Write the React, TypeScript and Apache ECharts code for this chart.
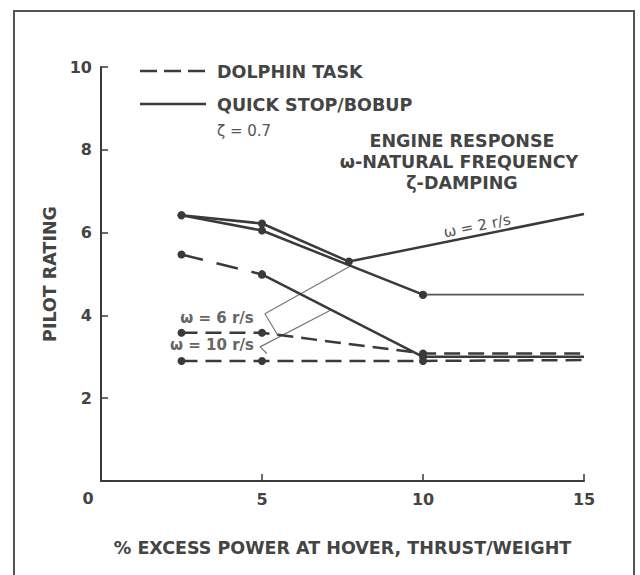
import React, { useEffect, useRef } from "react";
import * as echarts from "echarts";

// Data (x: % excess power, y: pilot rating)
const omega2Quick = [[2.5, 6.42], [5, 6.22], [7.7, 5.3], [15, 6.45]];
const omega6Quick = [[2.5, 6.42], [5, 6.05], [10, 4.5]];
const omega6QuickTail = [[10, 4.5], [15, 4.5]];
const omega10QuickStart = [[2.5, 5.47], [5, 4.99]];
const omega10Quick = [[5, 4.99], [10, 3.0], [15, 3.0]];
const omega6Dolphin = [[2.5, 3.58], [5, 3.58], [10, 3.08], [15, 3.08]];
const omega10Dolphin = [[2.5, 2.9], [5, 2.9], [10, 2.9], [15, 2.92]];
// leader lines for the ω labels
const leader6 = [[7.79, 5.21], [5.09, 4.04], [5.5, 3.51]];
const leader10 = [[7.11, 4.12], [4.94, 3.24], [5.15, 3.08]];

const xTicks = [0, 5, 10, 15];
const yTicks = [0, 2, 4, 6, 8, 10];

const FONT = "DejaVu Sans";
const INK = "#3a3a3a";
const TXT = "#444";

export default function App() {
  const ref = useRef<HTMLDivElement>(null);
  useEffect(() => {
    if (!ref.current) return;
    const chart = echarts.init(ref.current, null, { renderer: "svg" });
    const dot = (v: number[]) => (v[0] === 15 ? 0 : 8);
    const solid = (data: number[][], extra: any = {}) => ({
      type: "line",
      data,
      symbol: "circle",
      symbolSize: dot,
      itemStyle: { color: INK },
      lineStyle: { color: INK, width: 2.5, type: "solid" },
      silent: true,
      ...extra,
    });
    const dashed = (data: number[][], extra: any = {}) => ({
      type: "line",
      data,
      symbol: "circle",
      symbolSize: dot,
      itemStyle: { color: INK },
      lineStyle: { color: INK, width: 2.5, type: [16, 8] },
      silent: true,
      ...extra,
    });
    const leader = (data: number[][]) => ({
      type: "line",
      data,
      symbol: "none",
      lineStyle: { color: "#777", width: 1.2 },
      silent: true,
    });
    const txt = (x: number, y: number, text: string, extra: any = {}) => ({
      type: "text",
      x,
      y,
      style: {
        text,
        fill: TXT,
        font: `bold 17.5px "${FONT}"`,
        textVerticalAlign: "middle",
        ...extra,
      },
      silent: true,
    });
    const option: any = {
      animation: false,
      grid: { left: 101, right: 56, top: 67, bottom: 94 },
      xAxis: {
        type: "value",
        min: xTicks[0],
        max: xTicks[xTicks.length - 1],
        interval: 5,
        name: "% EXCESS POWER AT HOVER, THRUST/WEIGHT",
        nameLocation: "middle",
        nameGap: 58,
        nameTextStyle: { color: TXT, fontSize: 17.5, fontWeight: "bold", fontFamily: FONT },
        axisLine: { lineStyle: { color: INK, width: 2 } },
        axisTick: { inside: true, length: 7, lineStyle: { color: INK, width: 1.5 } },
        splitLine: { show: false },
        axisLabel: {
          margin: 10,
          color: TXT,
          fontSize: 16,
          fontWeight: "bold",
          fontFamily: FONT,
          formatter: (v: number) => (v === 0 ? "" : String(v)),
        },
      },
      yAxis: {
        type: "value",
        min: yTicks[0],
        max: yTicks[yTicks.length - 1],
        interval: 2,
        name: "PILOT RATING",
        nameLocation: "middle",
        nameRotate: 90,
        nameGap: 38,
        nameTextStyle: { color: TXT, fontSize: 17.5, fontWeight: "bold", fontFamily: FONT },
        axisLine: { lineStyle: { color: INK, width: 2 } },
        axisTick: { inside: true, length: 7, lineStyle: { color: INK, width: 1.5 } },
        splitLine: { show: false },
        axisLabel: {
          margin: 9,
          color: TXT,
          fontSize: 16,
          fontWeight: "bold",
          fontFamily: FONT,
          formatter: (v: number) => (v === 0 ? "" : String(v)),
        },
      },
      series: [
        leader(leader6),
        leader(leader10),
        solid(omega2Quick),
        solid(omega6Quick),
        solid(omega6QuickTail, { lineStyle: { color: "#555", width: 1.8 } }),
        dashed(omega10QuickStart, { lineStyle: { color: INK, width: 2.5, type: [22, 14] } }),
        solid(omega10Quick),
        dashed(omega6Dolphin),
        dashed(omega10Dolphin),
      ],
      graphic: [
        {
          type: "rect",
          shape: { x: 14, y: 11, width: 620, height: 620 },
          style: { fill: "none", stroke: "#555", lineWidth: 2 },
          silent: true,
        },
        {
          type: "line",
          shape: { x1: 140, y1: 71, x2: 206, y2: 71 },
          style: { stroke: INK, lineWidth: 2.5, lineDash: [17, 7] },
          silent: true,
        },
        txt(217, 72, "DOLPHIN TASK"),
        {
          type: "line",
          shape: { x1: 140, y1: 104, x2: 206, y2: 104 },
          style: { stroke: INK, lineWidth: 2.5 },
          silent: true,
        },
        txt(217, 105, "QUICK STOP/BOBUP"),
        txt(217, 131, "ζ = 0.7", { font: `15px "${FONT}"`, fill: "#555" }),
        txt(462, 141, "ENGINE RESPONSE", { textAlign: "center" }),
        txt(459, 162, "ω-NATURAL FREQUENCY", { textAlign: "center" }),
        txt(462, 183, "ζ-DAMPING", { textAlign: "center" }),
        {
          type: "text",
          x: 477,
          y: 226,
          rotation: 0.197,
          style: {
            text: "ω = 2 r/s",
            fill: "#555",
            font: `15px "${FONT}"`,
            textAlign: "center",
            textVerticalAlign: "middle",
          },
          silent: true,
        },
        txt(217, 318, "ω = 6 r/s", { textAlign: "center", fill: "#666", font: `bold 15px "${FONT}"` }),
        txt(212, 345, "ω = 10 r/s", { textAlign: "center", fill: "#666", font: `bold 15px "${FONT}"` }),
        txt(88, 498, "0", { textAlign: "center", font: `bold 16px "${FONT}"` }),
      ],
    };
    chart.setOption(option);
    return () => chart.dispose();
  }, []);
  return (
    <div
      ref={ref}
      style={{ position: "fixed", left: 0, top: 0, width: 640, height: 575, background: "#fff" }}
    />
  );
}
